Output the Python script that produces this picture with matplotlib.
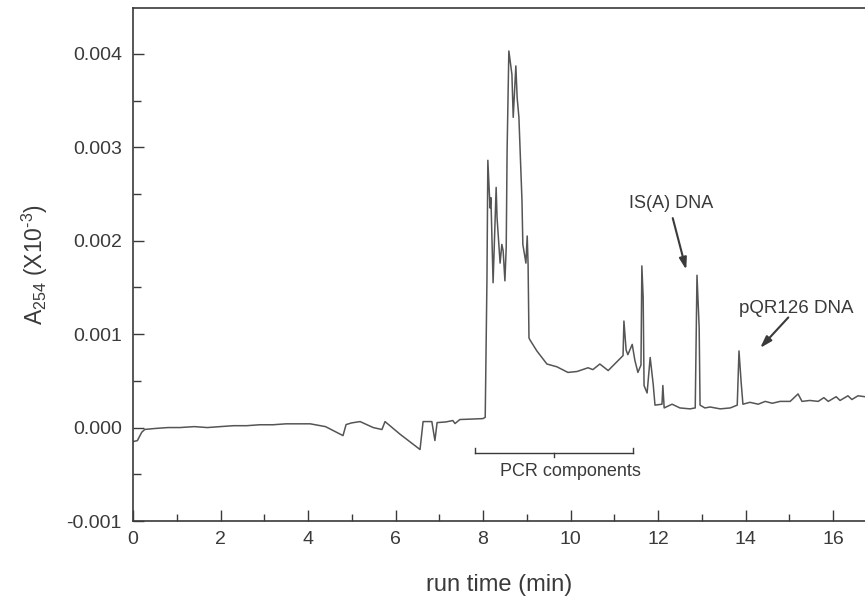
import matplotlib
matplotlib.use('Agg')
import matplotlib.pyplot as plt
from matplotlib.ticker import MultipleLocator, FormatStrFormatter

""" Chromatogram trace read off the figure """
run_time = [0.00, 0.10, 0.20, 0.27, 0.50, 0.80, 1.07, 1.40, 1.70, 1.99, 2.30, 2.60, 2.90, 3.20, 3.50,
            3.82, 4.05, 4.40, 4.80, 4.87, 5.00, 5.19, 5.49, 5.69, 5.76, 6.10, 6.56, 6.63, 6.83, 6.90,
            6.95, 7.15, 7.31, 7.36, 7.47, 7.70, 8.00, 8.05, 8.09, 8.11, 8.16, 8.18, 8.23, 8.30, 8.32,
            8.39, 8.43, 8.46, 8.50, 8.53, 8.55, 8.59, 8.66, 8.69, 8.75, 8.78, 8.82, 8.89, 8.91, 8.98,
            9.01, 9.03, 9.05, 9.07, 9.23, 9.46, 9.69, 9.94, 10.15, 10.40, 10.51, 10.67, 10.86, 11.20,
            11.22, 11.27, 11.31, 11.41, 11.47, 11.54, 11.61, 11.63, 11.66, 11.68, 11.75, 11.82, 11.89,
            11.93, 12.09, 12.11, 12.14, 12.32, 12.50, 12.73, 12.85, 12.89, 12.94, 12.96, 13.07, 13.19,
            13.42, 13.65, 13.81, 13.85, 13.90, 13.94, 14.10, 14.29, 14.45, 14.61, 14.79, 15.02, 15.20,
            15.29, 15.47, 15.66, 15.79, 15.89, 16.07, 16.16, 16.34, 16.43, 16.57, 16.73]
absorbance = [-0.00015, -0.00014, -0.00005, -0.00002, -0.00001, 0.00000, 0.00000, 0.00001, 0.00000,
              0.00001, 0.00002, 0.00002, 0.00003, 0.00003, 0.00004,
              0.00004, 0.00004, 0.00001, -0.000086, 0.000032, 0.00005, 0.000064, 0.00000, -0.000021,
              0.000064, -0.00007, -0.000235, 0.000064, 0.000064, -0.000139,
              0.000053, 0.00006, 0.000075, 0.000043, 0.000086, 0.00009, 0.000096, 0.00011, 0.0016,
              0.00286, 0.00235, 0.00246, 0.00155, 0.00257, 0.00225,
              0.00176, 0.00196, 0.00189, 0.00157, 0.00193, 0.00296, 0.00403, 0.00378, 0.00332,
              0.00387, 0.00353, 0.00332, 0.00243, 0.00196, 0.00176,
              0.00205, 0.00174, 0.00096, 0.00094, 0.00082, 0.00068, 0.00065, 0.00059, 0.00060,
              0.00064, 0.00062, 0.00068, 0.00061, 0.00077,
              0.00114, 0.00083, 0.00078, 0.00089, 0.00072, 0.00059, 0.00067, 0.00173, 0.00139,
              0.00045, 0.00037, 0.00075, 0.00046,
              0.00024, 0.00025, 0.00045, 0.00021, 0.00025, 0.00021, 0.00020, 0.00021, 0.00163,
              0.00107, 0.00024, 0.00021, 0.00022,
              0.00020, 0.00021, 0.00024, 0.00082, 0.00048, 0.00025, 0.00027, 0.00025, 0.00028,
              0.00026, 0.00028, 0.00028, 0.00036,
              0.00028, 0.00029, 0.00028, 0.00032, 0.00028, 0.00033, 0.00029, 0.00034, 0.00030,
              0.00034, 0.00033]

""" Labels """
peak_labels = ['IS(A) DNA', 'pQR126 DNA']
pcr_start, pcr_end = 7.82, 11.43

plt.rcParams['font.family'] = ['Liberation Sans', 'DejaVu Sans']
plt.rcParams['mathtext.fontset'] = 'custom'
plt.rcParams['mathtext.rm'] = 'Liberation Sans'
plt.rcParams['mathtext.it'] = 'Liberation Sans:italic'
plt.rcParams['mathtext.default'] = 'regular'
ink = '#3a3a3a'

fig = plt.figure(figsize=(8.65, 6.04), dpi=100, facecolor='w')
ax = fig.add_axes([133 / 865, 83 / 604, 732 / 865, 513 / 604])
ax.plot(run_time, absorbance, color='#555555', lw=1.1)

ax.set_xlim(0, 16.73)
ax.set_ylim(-0.001, 0.00449)
ax.spines['right'].set_visible(False)
for s in ['left', 'bottom', 'top']:
    ax.spines[s].set_linewidth(1.2)
    ax.spines[s].set_color(ink)

ax.xaxis.set_major_locator(MultipleLocator(2))
ax.xaxis.set_minor_locator(MultipleLocator(1))
ax.yaxis.set_major_locator(MultipleLocator(0.001))
ax.yaxis.set_minor_locator(MultipleLocator(0.0005))
ax.yaxis.set_major_formatter(FormatStrFormatter('%.3f'))
ax.tick_params(which='both', direction='in', colors=ink, width=1.0, labelsize=14)
ax.tick_params(axis='y', which='major', length=8, pad=8)
ax.tick_params(axis='y', which='minor', length=6)
ax.tick_params(axis='x', which='major', length=8, pad=7)
ax.tick_params(axis='x', which='minor', length=5)

ax.set_xlabel('run time (min)', fontsize=17, color=ink, labelpad=19)
ax.set_ylabel('A$_{254}$ (X10$^{\\text{-3}}$)', fontsize=16.5, color=ink, labelpad=12)

# peak annotations
ax.annotate('', xy=(12.66, 0.00166), xytext=(12.32, 0.00227),
            arrowprops=dict(arrowstyle='-|>,head_length=0.7,head_width=0.22', color=ink, lw=1.5))
ax.text(12.30, 0.00240, peak_labels[0], fontsize=13, color=ink, ha='center', va='center')
ax.annotate('', xy=(14.29, 0.00083), xytext=(15.02, 0.00120),
            arrowprops=dict(arrowstyle='-|>,head_length=0.7,head_width=0.22', color=ink, lw=1.5))
ax.text(15.17, 0.00127, peak_labels[1], fontsize=13.5, color=ink, ha='center', va='center')

# PCR components bracket
ax.plot([pcr_start, pcr_end], [-0.000267, -0.000267], color=ink, lw=1.0)
ax.plot([pcr_start, pcr_start], [-0.000267, -0.00022], color=ink, lw=1.0)
ax.plot([pcr_end, pcr_end], [-0.000267, -0.00022], color=ink, lw=1.0)
mid = (pcr_start + pcr_end) / 2
ax.plot([mid, mid], [-0.000267, -0.00032], color=ink, lw=1.0)
ax.text(10.0, -0.00047, 'PCR components', fontsize=13, color=ink, ha='center', va='center')

plt.savefig('out.png', dpi=100)
